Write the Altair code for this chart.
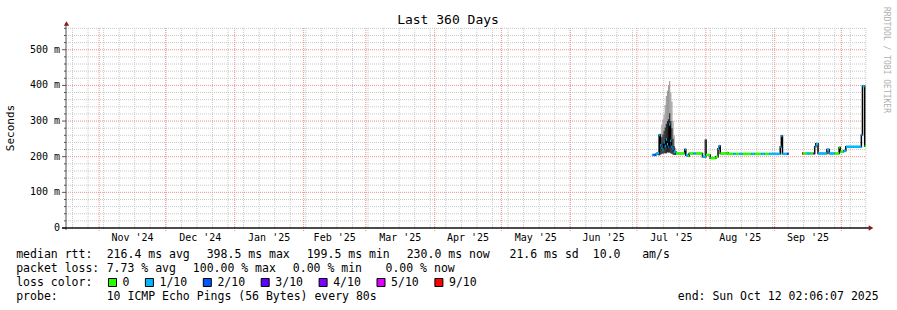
import altair as alt
import pandas as pd

# ---------------- data ----------------
START_TS = "2024-10-17T02:06:07Z"
END_TS = "2025-10-12T02:06:07Z"
Y_MAX = 561

loss_levels = ["0", "1/10", "2/10", "3/10", "4/10", "5/10", "9/10"]
loss_colors = ["#26ff00", "#00b8ff", "#0059ff", "#5e00ff", "#7e00ff", "#dd00ff", "#ff0000"]

# median rtt (ms), step-wise: each value holds until the next time; None = no data
med_time = [
    "2025-07-07T18:00", "2025-07-08T12:00", "2025-07-09T12:00", "2025-07-10T00:00",
    "2025-07-11T00:00", "2025-07-11T12:00", "2025-07-12T00:00", "2025-07-12T12:00",
    "2025-07-13T00:00", "2025-07-13T12:00", "2025-07-14T00:00", "2025-07-14T12:00",
    "2025-07-15T00:00", "2025-07-15T12:00", "2025-07-16T00:00", "2025-07-16T12:00",
    "2025-07-17T00:00", "2025-07-17T12:00", "2025-07-18T12:00", "2025-07-22T12:00",
    "2025-07-23T00:00", "2025-07-24T00:00", "2025-07-24T12:00", "2025-07-26T12:00",
    "2025-07-27T12:00", "2025-07-30T12:00", "2025-08-01T00:00", "2025-08-03T00:00",
    "2025-08-05T12:00", "2025-08-06T12:00", "2025-08-07T00:00", "2025-08-07T12:00",
    "2025-08-10T12:00", "2025-08-11T00:00", "2025-08-13T12:00", "2025-08-14T12:00",
    "2025-08-16T00:00", "2025-08-17T12:00", "2025-08-21T12:00", "2025-08-23T00:00",
    "2025-08-26T00:00", "2025-08-27T12:00", "2025-08-29T12:00", "2025-09-03T12:00",
    "2025-09-04T00:00", "2025-09-04T12:00", "2025-09-06T18:00", "2025-09-07T06:00",
    "2025-09-13T08:00", "2025-09-13T18:00", "2025-09-15T12:00", "2025-09-17T00:00",
    "2025-09-18T12:00", "2025-09-19T00:00", "2025-09-19T12:00", "2025-09-20T12:00",
    "2025-09-24T12:00", "2025-09-25T12:00", "2025-09-28T00:00", "2025-09-30T00:00",
    "2025-09-30T12:00", "2025-10-02T00:00", "2025-10-03T00:00", "2025-10-10T00:00",
    "2025-10-10T12:00", "2025-10-11T12:00", "2025-10-12T02:00",
]
med_ms = [
    205, 205, 207, 210,
    261, 232, 225, 220,
    240, 230, 248, 235,
    228, 290, 245, 228,
    222, 214, 209, 220,
    204, 202, 209, 209,
    209, 200, 205, 196,
    200, 222, 230, 209,
    211, 208, 208, 208,
    208, 208, 208, 208,
    208, 208, 208, 228,
    258, 208, 208, None,
    209, 209, 209, 209,
    209, 228, 236, 209,
    220, 209, 209, 226,
    214, 217, 228, 261,
    398, 230, None,
]
med_loss = [
    "1/10", "2/10", "1/10", "1/10",
    "1/10", "1/10", "1/10", "1/10",
    "1/10", "1/10", "1/10", "1/10",
    "2/10", "1/10", "1/10", "1/10",
    "1/10", "1/10", "0", "1/10",
    "1/10", "0", "0", "1/10",
    "0", "1/10", "0", "0",
    "0", "1/10", "1/10", "0",
    "0", "0", "1/10", "0",
    "1/10", "0", "1/10", "0",
    "1/10", "0", "1/10", "1/10",
    "1/10", "1/10", "3/10", "",
    "9/10", "0", "1/10", "0",
    "3/10", "1/10", "1/10", "1/10",
    "1/10", "1/10", "0", "0",
    "0", "1/10", "1/10", "1/10",
    "1/10", "0", "",
]

# smoke (ping spread) in 12 h slots
smoke_time = [
    "2025-07-10T12:00", "2025-07-11T00:00", "2025-07-11T12:00", "2025-07-12T00:00",
    "2025-07-12T12:00", "2025-07-13T00:00", "2025-07-13T12:00", "2025-07-14T00:00",
    "2025-07-14T12:00", "2025-07-15T00:00", "2025-07-15T12:00", "2025-07-16T00:00",
    "2025-07-16T12:00", "2025-07-17T00:00", "2025-07-17T12:00", "2025-07-18T00:00",
    "2025-07-31T12:00", "2025-08-01T00:00",
]
smoke_lo = [204, 204, 206, 208, 208, 210, 210, 210, 212, 212, 212, 210, 208, 206, 205, 205, 205, 205]
smoke_mid = [212, 262, 250, 255, 262, 272, 282, 292, 300, 305, 322, 300, 280, 250, 230, 215, 248, 248]
smoke_hi = [215, 262, 265, 290, 305, 318, 345, 370, 385, 400, 412, 380, 355, 300, 260, 225, 248, 248]

# axes
y_major = [0, 100, 200, 300, 400, 500]
y_major_labels = ["0\u00a0\u00a0", "100 m", "200 m", "300 m", "400 m", "500 m"]
y_minor = [v for v in range(20, 561, 20) if v % 100 != 0]
month_starts = ["2024-11-01", "2024-12-01", "2025-01-01", "2025-02-01", "2025-03-01", "2025-04-01",
                "2025-05-01", "2025-06-01", "2025-07-01", "2025-08-01", "2025-09-01", "2025-10-01"]
month_mid = ["2024-11-16T00:00", "2024-12-16T12:00", "2025-01-16T12:00", "2025-02-15T00:00",
             "2025-03-16T12:00", "2025-04-16T00:00", "2025-05-16T12:00", "2025-06-16T00:00",
             "2025-07-16T12:00", "2025-08-16T12:00", "2025-09-16T00:00"]
month_labels = ["Nov '24", "Dec '24", "Jan '25", "Feb '25", "Mar '25", "Apr '25",
                "May '25", "Jun '25", "Jul '25", "Aug '25", "Sep '25"]
week_starts = pd.date_range("2024-10-20", "2025-10-12", freq="7D")

title_text = "Last 360 Days"
y_title = "Seconds"
watermark = "RRDTOOL / TOBI OETIKER"
legend_line1 = ["median rtt:", "216.4 ms avg", "398.5 ms max", "199.5 ms min", "230.0 ms now",
                "21.6 ms sd", "10.0", "am/s"]
legend_line2 = ["packet loss:", "7.73 % avg", "100.00 % max", "0.00 % min", "0.00 % now"]
legend_line3 = "loss color:"
legend_line4 = ["probe:", "10 ICMP Echo Pings (56 Bytes) every 80s", "end: Sun Oct 12 02:06:07 2025"]

# ---------------- helpers ----------------
FONT = "DejaVu Sans Mono"
PL, PT = 66, 28          # plot-area offset in the page
W, H = 800, 200


def iso(s):
    return pd.Timestamp(s, tz="UTC").strftime("%Y-%m-%dT%H:%M:%SZ")


def ms(s):
    return int(pd.Timestamp(s).value // 10**6)


xsc = alt.Scale(type="utc", domain=[ms(START_TS), ms(END_TS)], nice=False)
ysc = alt.Scale(domain=[0, Y_MAX], nice=False, zero=True)
one = pd.DataFrame({"k": [0]})

# median segments
med = pd.DataFrame({"t": pd.to_datetime(med_time, utc=True),
                    "v": pd.array(med_ms, dtype="Float64"),
                    "loss": med_loss})
rows_seg = []
pts = []
seg = 0
for i in range(len(med) - 1):
    v = med["v"][i]
    if pd.isna(v):
        seg += 1
        continue
    t0 = med["t"][i].strftime("%Y-%m-%dT%H:%M:%SZ")
    t1 = med["t"][i + 1].strftime("%Y-%m-%dT%H:%M:%SZ")
    rows_seg.append({"t": t0, "t2": t1, "v": float(v), "loss": med["loss"][i]})
    pts.append({"t": t0, "v": float(v), "seg": seg})
    if pd.isna(med["v"][i + 1]):
        pts.append({"t": t1, "v": float(v), "seg": seg})
seg_df = pd.DataFrame(rows_seg)
pts_df = pd.DataFrame(pts)

smoke = pd.DataFrame({"t": pd.to_datetime(smoke_time, utc=True),
                      "lo": smoke_lo, "mid": smoke_mid, "hi": smoke_hi})
smoke["t2"] = smoke["t"] + pd.Timedelta(hours=12)
smoke["t"] = smoke["t"].dt.strftime("%Y-%m-%dT%H:%M:%SZ")
smoke["t2"] = smoke["t2"].dt.strftime("%Y-%m-%dT%H:%M:%SZ")

X = lambda f: alt.X(f, scale=xsc, axis=None)
Y = lambda f: alt.Y(f, scale=ysc, axis=None)

layers = []

# grid
layers.append(alt.Chart(pd.DataFrame({"y": y_minor})).mark_rule(
    color="#c8c8c8", strokeDash=[1, 1], strokeWidth=1).encode(
    y=Y("y:Q"), x=alt.value(0), x2=alt.value(W)))
layers.append(alt.Chart(pd.DataFrame({"t": [d.strftime("%Y-%m-%dT00:00:00Z") for d in week_starts]})).mark_rule(
    color="#c8c8c8", strokeDash=[1, 1], strokeWidth=1).encode(
    x=X("t:T"), y=alt.value(0), y2=alt.value(H + 2)))
layers.append(alt.Chart(pd.DataFrame({"y": y_major[1:]})).mark_rule(
    color="#f09090", strokeDash=[1, 1], strokeWidth=1).encode(
    y=Y("y:Q"), x=alt.value(0), x2=alt.value(W)))
layers.append(alt.Chart(pd.DataFrame({"t": [iso(d) for d in month_starts]})).mark_rule(
    color="#f09090", strokeDash=[1, 1], strokeWidth=1).encode(
    x=X("t:T"), y=alt.value(0), y2=alt.value(H + 4)))

# y ticks
layers.append(alt.Chart(pd.DataFrame({"y": y_minor})).mark_rule(color="#555555").encode(
    y=Y("y:Q"), x=alt.value(-2), x2=alt.value(0)))
layers.append(alt.Chart(pd.DataFrame({"y": y_major})).mark_rule(color="#555555").encode(
    y=Y("y:Q"), x=alt.value(-4), x2=alt.value(0)))

# smoke
layers.append(alt.Chart(smoke).mark_rect(color="#9a9a9a").encode(
    x=X("t:T"), x2="t2:T", y=Y("lo:Q"), y2="hi:Q"))
layers.append(alt.Chart(smoke).mark_rect(color="#262626").encode(
    x=X("t:T"), x2="t2:T", y=Y("lo:Q"), y2="mid:Q"))

# median: black step path + loss-coloured segments
layers.append(alt.Chart(pts_df).mark_line(interpolate="step-after", color="#000000", strokeWidth=1.5).encode(
    x=X("t:T"), y=Y("v:Q"), detail="seg:N"))
layers.append(alt.Chart(seg_df).mark_rule(strokeWidth=2.5).encode(
    x=X("t:T"), x2="t2:T", y=Y("v:Q"),
    color=alt.Color("loss:N", scale=alt.Scale(domain=loss_levels, range=loss_colors), legend=None)))

# axis lines + arrows
layers.append(alt.Chart(one).mark_rule(color="#505050", strokeWidth=1).encode(
    x=alt.value(0), y=alt.value(-4), y2=alt.value(H + 2)))
layers.append(alt.Chart(one).mark_rule(color="#111111", strokeWidth=1.5).encode(
    x=alt.value(-4), x2=alt.value(W + 3), y=alt.value(H)))
layers.append(alt.Chart(one).mark_point(shape="triangle-up", filled=True, color="#8b1a1a", size=28, opacity=1).encode(
    x=alt.value(0.5), y=alt.value(-4.5)))
layers.append(alt.Chart(one).mark_point(shape="triangle-right", filled=True, color="#8b1a1a", size=28, opacity=1).encode(
    x=alt.value(W + 5), y=alt.value(H)))

# axis labels
layers.append(alt.Chart(pd.DataFrame({"y": y_major, "lab": y_major_labels})).mark_text(
    font=FONT, fontSize=10, align="right", baseline="middle", color="#000000").encode(
    y=Y("y:Q"), x=alt.value(-6), text="lab:N"))
layers.append(alt.Chart(pd.DataFrame({"t": [iso(d) for d in month_mid], "lab": month_labels})).mark_text(
    font=FONT, fontSize=10, align="center", baseline="middle", color="#000000").encode(
    x=X("t:T"), y=alt.value(237.5 - PT), text="lab:N"))


def txt(s, ax, ay, size=11.5, align="left", angle=0, color="#000000"):
    kw = dict(font=FONT, fontSize=size, align=align, baseline="middle", color=color)
    if angle:
        kw["angle"] = angle
    return alt.Chart(one).mark_text(**kw).encode(
        x=alt.value(ax - PL), y=alt.value(ay - PT), text=alt.value(s))


layers.append(txt(title_text, 448, 19.5, size=13, align="center"))
layers.append(txt(y_title, 11, 128, size=11, align="center", angle=270))
layers.append(txt(watermark, 886, 60, size=8, align="center", angle=90, color="#b0b0b0"))

line1_x = [16.2, 106.7, 206.7, 306.7, 406.7, 509.5, 592.8, 642.2]
for s, xx in zip(legend_line1, line1_x):
    layers.append(txt(s, xx, 254.5))
line2_x = [16.2, 106.7, 192.8, 292.8, 385.5]
for s, xx in zip(legend_line2, line2_x):
    layers.append(txt(s, xx, 268.5))
layers.append(txt(legend_line3, 16.2, 282.5))
line4_x = [16.2, 106.7, 677.8]
for s, xx in zip(legend_line4, line4_x):
    layers.append(txt(s, xx, 296.5))

# loss colour legend boxes
bx = 108.5
for lab, col in zip(loss_levels, loss_colors):
    layers.append(alt.Chart(one).mark_rect(color=col, stroke="#000000", strokeWidth=1).encode(
        x=alt.value(bx - PL), x2=alt.value(bx + 8 - PL),
        y=alt.value(278.5 - PT), y2=alt.value(286.5 - PT)))
    lx = bx + 14.6
    layers.append(txt(lab, lx - 0.5, 282.5))
    bx = lx + 7 * len(lab) + 15.3

chart = alt.layer(*layers).properties(
    width=W, height=H,
    padding={"left": PL, "top": PT, "right": 897 - PL - W, "bottom": 310 - PT - H},
    autosize=alt.AutoSizeParams(type="none"),
    background="#ffffff",
).configure_view(stroke=None)

chart.save("out.html", embed_options={"renderer": "svg", "actions": False})
